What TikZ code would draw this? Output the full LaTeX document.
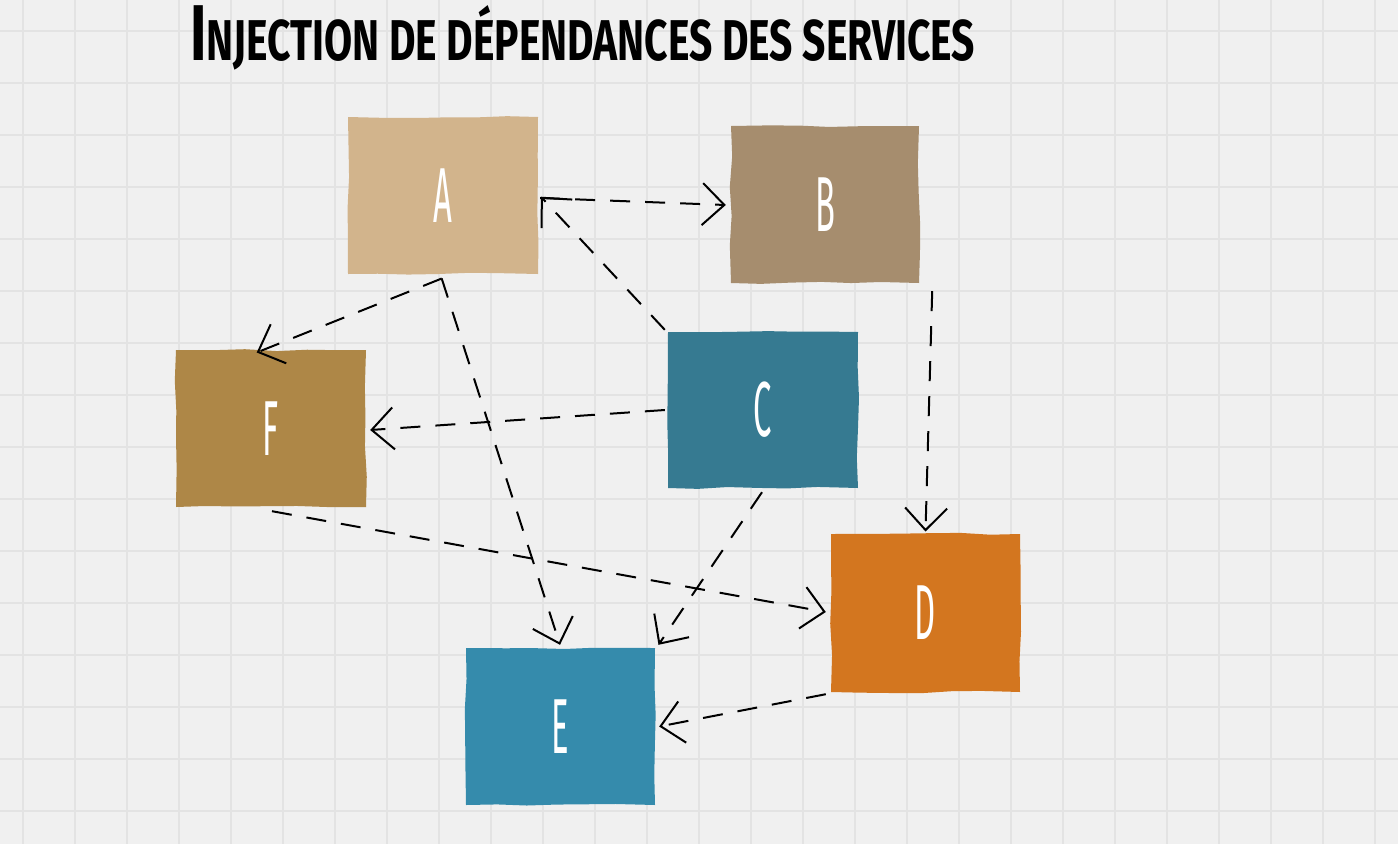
\documentclass[tikz,border=0pt]{standalone}
\usepackage{fontspec}
\usepackage{graphicx}
\usetikzlibrary{arrows.meta,calc,decorations.pathmorphing}
\newfontfamily\titlefont{Fira Sans}
\newfontfamily\lblfont[FakeStretch=0.42]{Fira Sans}
\definecolor{bgc}{HTML}{F0F0F0}
\definecolor{gridc}{HTML}{E3E3E3}
\definecolor{colA}{HTML}{D2B48C}
\definecolor{colB}{HTML}{A68D6E}
\definecolor{colC}{HTML}{367A91}
\definecolor{colD}{HTML}{D3761F}
\definecolor{colE}{HTML}{358BAC}
\definecolor{colF}{HTML}{AE8747}
\tikzset{
  svc/.style={minimum width=190pt, minimum height=157pt, inner sep=0pt,
    text=white, font=\lblfont\fontsize{78}{78}\selectfont,
    decorate, decoration={random steps, segment length=30pt, amplitude=1.2pt}},
  dep/.style={draw=black, line width=2pt, dash pattern=on 20pt off 15pt,
    -{Straight Barb[length=22pt,width=42pt,line width=2pt]}},
  gridline/.style={draw=gridc, line width=2pt}
}
\pgfmathsetseed{7}
\begin{document}
\begin{tikzpicture}[x=1pt,y=-1pt]
\useasboundingbox (0,0) rectangle (1398,844);
\fill[bgc] (0,0) rectangle (1398,844);
\foreach \i in {0,...,26} {\draw[gridline] (23+52*\i,0) -- (23+52*\i,844);}
\foreach \j in {0,...,16} {\draw[gridline] (0,30.5+52*\j) -- (1398,30.5+52*\j);}

\node[anchor=base west, inner sep=0pt] (title) at (190,60)
  {\resizebox{785pt}{55pt}{\titlefont\bfseries{\fontsize{77}{77}\selectfont I}\fontsize{56}{56}\selectfont NJECTION DE DÉPENDANCES DES SERVICES}};

\node[svc, fill=colA, minimum width=190pt, minimum height=157pt] (A) at (443,195.5) {A};
\node[svc, fill=colB, minimum width=188pt] (B) at (825,204.5) {B};
\node[svc, fill=colC, minimum height=156pt] (C) at (763,410) {C};
\node[svc, fill=colD, minimum width=189pt, minimum height=158pt] (D) at (925.5,613) {D};
\node[svc, fill=colE, minimum width=189pt] (E) at (560.5,726.5) {E};
\node[svc, fill=colF] (F) at (271,428.5) {F};

\draw[dep] ($(A.east)+(2,2.5)$) -- ($(B.west)+(-5,0.5)$);
\draw[dep] ($(C.north west)+(-3,-2)$) -- ($(A.east)+(2.7,1.2)$);
\draw[dep] ($(A.south)+(-1.3,4.3)$) -- ($(F.north)+(-14.3,2.7)$);
\draw[dep] ($(A.south)+(-1.3,4.3)$) -- ($(E.north)+(-0.5,-3)$);
\draw[dep] ($(B.south east)+(13,8)$) -- ($(D.north)+(0,-2.3)$);
\draw[dep] ($(C.west)+(-3,0)$) -- ($(F.east)+(4,1.5)$);
\draw[dep] ($(C.south)+(-1,4)$) -- ($(E.north east)+(3.3,-3)$);
\draw[dep] ($(F.south)+(1,4)$) -- ($(D.west)+(-5,-1)$);
\draw[dep] ($(D.south west)+(-5,2)$) -- ($(E.east)+(4,0)$);
\end{tikzpicture}
\end{document}
